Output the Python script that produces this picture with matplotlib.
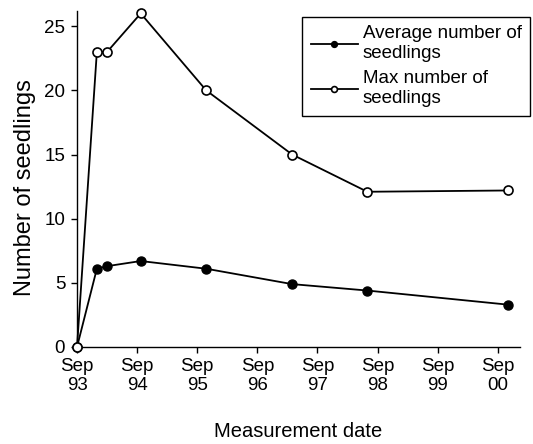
import matplotlib
matplotlib.use("Agg")
import matplotlib.pyplot as plt

plt.rcParams['font.family'] = ['Liberation Sans', 'DejaVu Sans']

# years after Sep 1993
years = [0, 0.33, 0.5, 1.06, 2.15, 3.58, 4.83, 7.17]
avg_seedlings = [0, 6.1, 6.3, 6.7, 6.1, 4.9, 4.4, 3.3]
max_seedlings = [0, 23, 23, 26, 20, 15, 12.1, 12.2]

tick_pos = [0, 1, 2, 3, 4, 5, 6, 7]
tick_labels = ["Sep\n93", "Sep\n94", "Sep\n95", "Sep\n96",
               "Sep\n97", "Sep\n98", "Sep\n99", "Sep\n00"]
y_ticks = [0, 5, 10, 15, 20, 25]

fig = plt.figure(figsize=(5.33, 4.44), dpi=100)
ax = fig.add_axes([0.1445, 0.2185, 0.8311, 0.757])

ax.plot(years, avg_seedlings, color='black', lw=1.3, marker='o', ms=6.5,
        mfc='black', mec='black', label="Average number of\nseedlings", clip_on=False, zorder=3)
ax.plot(years, max_seedlings, color='black', lw=1.3, marker='o', ms=6.5,
        mfc='white', mec='black', mew=1.2, label="Max number of\nseedlings", clip_on=False, zorder=4)

ax.set_xlim(0, 7.37)
ax.set_ylim(0, 26.2)
ax.set_xticks(tick_pos)
ax.set_xticklabels(tick_labels, fontsize=13.5, linespacing=1.15)
ax.set_yticks(y_ticks)
ax.tick_params(axis='y', labelsize=13.5, length=4.5, width=1, pad=4)
ax.tick_params(axis='x', length=4, width=1, pad=4)

for side in ['top', 'right']:
    ax.spines[side].set_visible(False)
for side in ['left', 'bottom']:
    ax.spines[side].set_linewidth(1.0)

ax.set_ylabel("Number of seedlings", fontsize=17)
ax.yaxis.set_label_coords(-0.093, 0.473)
ax.set_xlabel("Measurement date", fontsize=14.5, labelpad=20)

leg = ax.legend(loc='upper right', bbox_to_anchor=(530 / 533, 1 - 17 / 444),
                bbox_transform=fig.transFigure, borderaxespad=0, fontsize=13.5,
                handlelength=2.5, handletextpad=0.27, fancybox=False, markerscale=0.65,
                edgecolor='black', framealpha=1, borderpad=0.45, labelspacing=0.45)
leg.get_frame().set_linewidth(1.0)
for t in leg.get_texts():
    t.set_linespacing(1.2)

fig.savefig("out.png", dpi=100)
